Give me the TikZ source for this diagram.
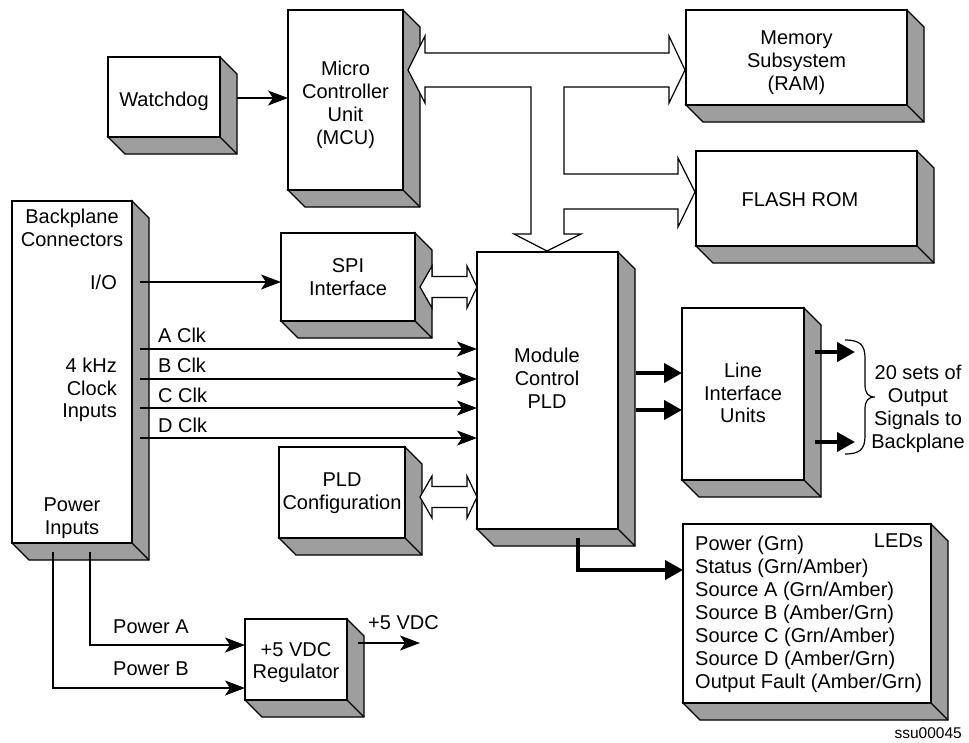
\documentclass[tikz,border=0pt]{standalone}
\usepackage{fontspec}
\setmainfont{Liberation Sans}
\usetikzlibrary{arrows.meta,calc}
\definecolor{shadegray}{RGB}{158,158,158}
\tikzset{
  box/.style={draw, line width=1.2pt, fill=white, inner sep=0pt, outer sep=0pt, anchor=north west},
  lbl/.style={inner sep=0pt, align=center, font=\fontsize{20}{22.8}\selectfont},
  conn/.style={line width=1.2pt, -{Stealth[length=20pt,width=15pt,inset=5pt]}},
  thickconn/.style={line width=4pt, -{Triangle[length=18pt,width=19pt]}},
  hollow/.style={draw, line width=1.2pt, fill=white, line join=miter},
  shadeface/.style={fill=shadegray, draw=black, line width=1.2pt, line join=miter},
}
% name, x0, y0, x1, y1 (front face), then the face shows a 17px shaded depth
\newcommand\tdbox[5]{%
  \draw[shadeface] (#4,#3) -- ({#4+17},{#3+17}) -- ({#4+17},{#5+17}) -- ({#2+17},{#5+17}) -- (#2,#5) -- (#4,#5) -- cycle;
  \draw[line width=1.2pt] (#4,#5) -- ({#4+17},{#5+17});
  \node[box, minimum width={#4-#2}, minimum height={#5-#3}] (#1) at (#2,#3) {};
}
\newcommand\hollowdbl[1]{%
  \draw[hollow] (420,#1) -- (432,{#1-21}) -- (432,{#1-10.5}) -- (467,{#1-10.5}) -- (467,{#1-21}) -- (477,#1)
    -- (467,{#1+21}) -- (467,{#1+10.5}) -- (432,{#1+10.5}) -- (432,{#1+21}) -- cycle;
}
\begin{document}
\begin{tikzpicture}[x=1pt,y=-1pt]
\useasboundingbox (0,0) rectangle (969,742);

% boxes
\tdbox{wd}{108}{57}{220}{137}
\tdbox{mcu}{288}{10}{403}{190}
\tdbox{mem}{686}{10}{907}{105}
\tdbox{flash}{696}{151}{917}{246}
\tdbox{bp}{12}{201}{132}{543}
\tdbox{spi}{281}{233}{415}{321}
\tdbox{mod}{477}{252}{618}{529}
\tdbox{pldc}{279}{447}{405}{538}
\tdbox{liu}{682}{308}{804}{480}
\tdbox{reg}{245}{619}{347}{700}
\tdbox{leds}{683}{524}{931}{703}

% texts inside boxes
\node[lbl] (wdtxt) at ($(wd.center)+(0,4)$) {Watchdog};
\node[lbl] (mcutxt) at ($(mcu.center)+(0,5)$) {Micro\\Controller\\Unit\\(MCU)};
\node[lbl] (memtxt) at ($(mem.center)+(0,5)$) {Memory\\Subsystem\\(RAM)};
\node[lbl] (flashtxt) at (800,200) {FLASH ROM};
\node[lbl] (spitxt) at (spi.center) {SPI\\Interface};
\node[lbl] (pldctxt) at ($(pldc.center)+(0,1)$) {PLD\\Configuration};
\node[lbl] (liutxt) at ($(liu.center)+(0,-1)$) {Line\\Interface\\Units};
\node[lbl] (regtxt) at ($(reg.center)+(0,3)$) {+5 VDC\\Regulator};
\node[lbl] (modtxt) at (547,378) {Module\\Control\\PLD};
\node[lbl] (bptxt) at (72,228) {Backplane\\Connectors};
\node[lbl, anchor=east] (iotxt) at (117,282) {I/O};
\node[lbl, align=right, anchor=east] (clktxt) at (117,390) {4 kHz\\Clock\\Inputs};
\node[lbl] (pwrtxt) at (72,518) {Power\\Inputs};
\node[lbl, anchor=east] (ledstxt) at (923,541) {LEDs};
\foreach \t [count=\i] in {Power (Grn),Status (Grn/Amber),Source A (Grn/Amber),Source B (Amber/Grn),Source C (Grn/Amber),Source D (Amber/Grn),Output Fault (Amber/Grn)}{
  \node[lbl, anchor=base west] (led\i) at (695,{550+23*(\i-1)}) {\t};
}

% MCU bus (hollow)
\draw[hollow] (408,70) -- (425,36) -- (425,53) -- (669,53) -- (669,36) -- (685,70) -- (669,103) -- (669,87)
  -- (564,87) -- (564,174) -- (678,174) -- (678,158) -- (695,192) -- (678,227) -- (678,209) -- (564,209)
  -- (564,234) -- (581,234) -- (547,251) -- (514,234) -- (531,234) -- (531,87) -- (425,87) -- (425,103) -- cycle;

% hollow double arrows
\hollowdbl{287}
\hollowdbl{497}

% connectors
\coordinate (wdout) at (237,98);
\draw[conn] (wdout) -- (wdout -| mcu.west);

\coordinate (io) at (140,282);
\draw[conn] (io) -- (io -| spi.west);

\coordinate (aclk) at (140,349);
\coordinate (bclk) at (140,379);
\coordinate (cclk) at (140,408);
\coordinate (dclk) at (140,438);
\foreach \c in {aclk,bclk,cclk,dclk}{\draw[conn] (\c) -- (\c -| mod.west);}
\node[lbl, anchor=west] (alab) at (158,335) {A Clk};
\node[lbl, anchor=west] (blab) at (158,365) {B Clk};
\node[lbl, anchor=west] (clab) at (158,395) {C Clk};
\node[lbl, anchor=west] (dlab) at (158,425) {D Clk};

\coordinate (m1) at (636,373);
\coordinate (m2) at (636,410);
\draw[thickconn] (m1) -- (m1 -| liu.west);
\draw[thickconn] (m2) -- (m2 -| liu.west);

\coordinate (o1) at (815,352);
\coordinate (o2) at (815,442);
\coordinate (o1e) at (855,352);
\coordinate (o2e) at (855,442);
\draw[thickconn] (o1) -- (o1e);
\draw[thickconn] (o2) -- (o2e);

\draw[line width=1.2pt] (845,340) .. controls (860,340) and (865,345) .. (865,358) -- (865,385)
  .. controls (865,393) and (868,397) .. (875,397) .. controls (868,397) and (865,401) .. (865,409)
  -- (865,436) .. controls (865,449) and (860,454) .. (845,454);
\node[lbl] (outtxt) at (918,409) {20 sets of\\Output\\Signals to\\Backplane};

\coordinate (ledsrc) at (578,538);
\coordinate (ledin) at (683,570);
\draw[thickconn] (ledsrc) |- (ledin);

\coordinate (pa) at (90,552);
\coordinate (pb) at (53,552);
\draw[conn] (pa) |- (reg.west |- 0,645);
\draw[conn] (pb) |- (reg.west |- 0,688);
\node[lbl, anchor=west] (palab) at (113,627) {Power A};
\node[lbl, anchor=west] (pblab) at (113,669) {Power B};

\coordinate (regout) at (358,643);
\coordinate (vdc) at (420,643);
\draw[conn] (regout) -- (vdc);
\node[lbl, anchor=west] (vdclab) at (368,623) {+5 VDC};

\node[inner sep=0pt, anchor=east, font=\fontsize{15.5}{18}\selectfont] (ssu) at (962,733) {ssu00045};
\end{tikzpicture}
\end{document}
